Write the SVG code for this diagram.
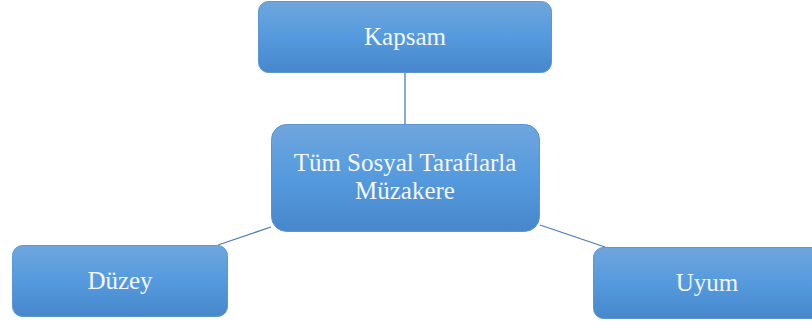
<svg xmlns="http://www.w3.org/2000/svg" width="812" height="321" viewBox="0 0 812 321">
<defs>
<linearGradient id="g" x1="0" y1="0" x2="0" y2="1">
<stop offset="0" stop-color="#6fa6dd"/>
<stop offset="0.5" stop-color="#559ade"/>
<stop offset="1" stop-color="#4787cb"/>
</linearGradient>
<style>
.box{fill:url(#g);stroke:#5c95d2;stroke-width:1}
.t{font-family:"Liberation Serif",serif;font-size:25px;fill:#f4f7fb;text-anchor:middle}
.c{stroke:#4a7db4;stroke-width:1.3;fill:none}
</style>
</defs>
<g id="connectors">
<line class="c" x1="405" y1="73" x2="405" y2="124"/>
<line class="c" x1="218" y1="245" x2="271" y2="227"/>
<line class="c" x1="540" y1="225" x2="605" y2="247"/>
</g>
<g id="kapsam">
<rect class="box" x="258.5" y="1.5" width="293" height="71" rx="10"/>
<text class="t" x="405" y="45">Kapsam</text>
</g>
<g id="center">
<rect class="box" x="271.5" y="124.5" width="268" height="107" rx="15"/>
<text class="t" x="405" y="171">Tüm Sosyal Taraflarla</text>
<text class="t" x="405" y="199">Müzakere</text>
</g>
<g id="duzey">
<rect class="box" x="12.5" y="245.5" width="215" height="71" rx="10"/>
<text class="t" x="120" y="289">Düzey</text>
</g>
<g id="uyum">
<rect class="box" x="593.5" y="247.5" width="230" height="71" rx="10"/>
<text class="t" x="707" y="291">Uyum</text>
</g>
</svg>
